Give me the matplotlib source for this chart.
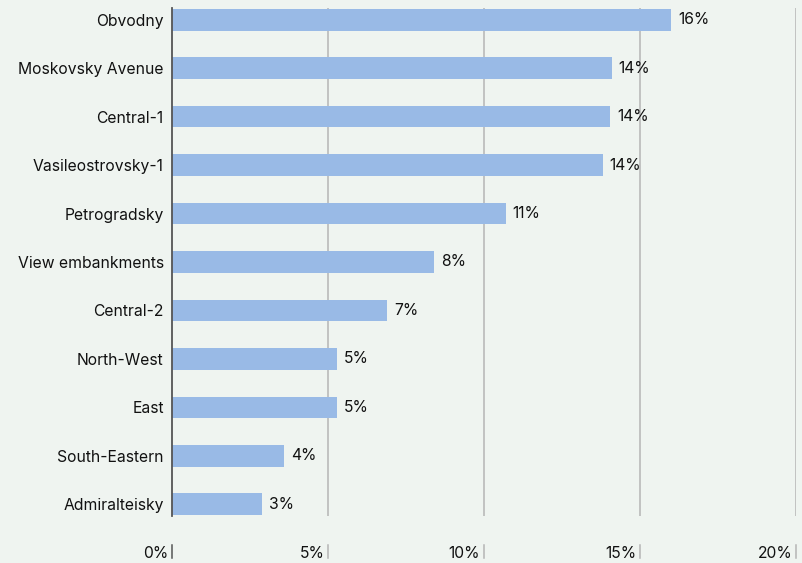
import matplotlib
matplotlib.use("Agg")
import matplotlib.pyplot as plt
import matplotlib.transforms as mtransforms

categories = ["Obvodny", "Moskovsky Avenue", "Central-1", "Vasileostrovsky-1",
              "Petrogradsky", "View embankments", "Central-2", "North-West",
              "East", "South-Eastern", "Admiralteisky"]
values = [16.0, 14.1, 14.05, 13.8, 10.7, 8.4, 6.9, 5.3, 5.3, 3.6, 2.9]
labels = ["16%", "14%", "14%", "14%", "11%", "8%", "7%", "5%", "5%", "4%", "3%"]
xticks = [0, 5, 10, 15, 20]
xticklabels = ["0%", "5%", "10%", "15%", "20%"]

BG = "#eff4f0"
BAR = "#99bae6"
FS = 11.3
plt.rcParams['font.family'] = ['Inter', 'DejaVu Sans']

fig = plt.figure(figsize=(8.02, 5.63), dpi=100, facecolor=BG)
ax = fig.add_axes([172/802, 1-516/563, (796-172)/802, (516-8)/563])
ax.set_facecolor(BG)

n = len(categories)
ypos = list(range(n))[::-1]
ax.barh(ypos, values, height=0.45, color=BAR, zorder=2)
for y, v, l in zip(ypos, values, labels):
    ax.text(v + 0.22, y, l, va="center", ha="left", fontsize=FS, color="#111111")

ax.set_xlim(0, 20)
ax.set_ylim(-0.24, n - 1 + 0.24)
ax.set_yticks(ypos)
ax.set_yticklabels(categories, fontsize=FS, color="#111111")
ax.tick_params(axis="y", length=0, pad=6)
ax.set_xticks([])
for x in xticks[1:]:
    ax.axvline(x, color="#b5b5b5", lw=1.1, zorder=1)
for s in ["top", "right", "bottom"]:
    ax.spines[s].set_visible(False)
ax.spines["left"].set_color("#555555")
ax.spines["left"].set_linewidth(1.3)
ax.spines["left"].set_zorder(3)

trans = mtransforms.blended_transform_factory(ax.transData, ax.transAxes)
y0 = -(545-516)/508
y1 = -(558-516)/508
for x, t in zip(xticks, xticklabels):
    ax.plot([x, x], [y0, y1], transform=trans, clip_on=False,
            color="#555555" if x == 0 else "#b5b5b5", lw=1.1)
    ax.text(x - 0.12, (y0 + y1) / 2 - 0.003, t, transform=trans, ha="right", va="center",
            fontsize=FS, color="#111111")

fig.savefig("out.png", dpi=100, facecolor=BG)
